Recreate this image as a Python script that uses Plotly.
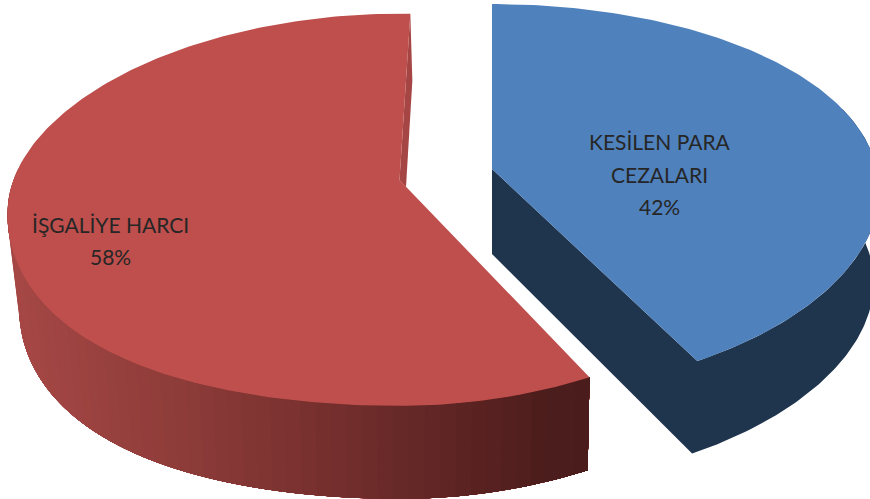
import numpy as np
import plotly.graph_objects as go

categories = ["KESİLEN PARA CEZALARI", "İŞGALİYE HARCI"]
values = [42, 58]
label_lines = [["KESİLEN PARA", "CEZALARI", "42%"], ["İŞGALİYE HARCI", "58%"]]

W, H = 870, 499
BLUE_TOP, BLUE_DARK = "#4F81BD", "#1F344D"
RED_TOP, RED_INNER = "#BE4F4C", "#A64644"
SIDE_STOPS = [(0.0, (166, 72, 70)), (0.25, (145, 62, 59)), (0.5, (122, 50, 48)), (0.93, (76, 29, 28)), (1.0, (74, 29, 28))]

blue_geo = dict(ax=492, ay=169, rx=385, ry=190, kx=0.11, ky=0.152, rot=0.0, depth=92.5, b0=0.965, b1=0.0205, sy=0, sy2=0)
red_geo = dict(ax=399.5, ay=180, rx=391, ry=191.5, kx=0.07, ky=0.152, rot=1.7, depth=93, b0=0.984, b1=0.0138, sy=20, sy2=27)
label_pos = [[(659.5, 141), (659, 174), (659, 206)], [(110.5, 224), (110.5, 256)]]


def top_xy(theta, g):
    t = np.radians(np.asarray(theta, dtype=float) + g["rot"])
    u, v = np.sin(t), np.cos(t)
    lift = np.minimum(u, 0) ** 2 * (g["sy"] + g["sy2"] * np.maximum(-v, 0))
    return g["ax"] + g["rx"] * u / (1 + g["kx"] * v), g["ay"] - g["ry"] * v / (1 + g["ky"] * v) + lift


def bottom_xy(theta, g):
    x, y = top_xy(theta, g)
    u = np.sin(np.radians(np.asarray(theta, dtype=float) + g["rot"]))
    return g["ax"] + (x - g["ax"]) * (g["b0"] + g["b1"] * u), y + g["depth"]


def poly(x, y, color):
    return go.Scatter(x=list(x), y=list(y), mode="lines", fill="toself", fillcolor=color,
                      line=dict(color=color, width=0), hoverinfo="skip", showlegend=False)


def side_color(f):
    xs = [s[0] for s in SIDE_STOPS]
    return "rgb(%d,%d,%d)" % tuple(np.interp(f, xs, [s[1][i] for s in SIDE_STOPS]) for i in range(3))


fig = go.Figure()

a_blue = values[0] / sum(values) * 360
blue_arc = np.linspace(0, a_blue, 181)
red_arc = np.linspace(a_blue, 360, 241)

# red slice: outer wall (bands overlap so no seams), inner sliver, top face
band_edges = np.linspace(280, a_blue, 61)
for i in range(60):
    t = np.linspace(band_edges[i], a_blue, 80)
    x0, y0 = top_xy(t, red_geo)
    x1, y1 = bottom_xy(t, red_geo)
    xm, _ = top_xy((band_edges[i] + band_edges[i + 1]) / 2, red_geo)
    fig.add_trace(poly(np.r_[x0, x1[::-1]], np.r_[y0, y1[::-1]], side_color((xm - 12) / (591 - 12))))

ex, ey = top_xy(360, red_geo)
fig.add_trace(poly([red_geo["ax"], ex, ex + 2, red_geo["ax"] + 6.5],
                   [red_geo["ay"], ey, ey + 67, red_geo["ay"] + 7], RED_INNER))
x, y = top_xy(red_arc, red_geo)
fig.add_trace(poly(np.r_[red_geo["ax"], x], np.r_[red_geo["ay"], y], RED_TOP))

# blue slice: walls as one outline, then top face
vis = blue_arc[blue_arc >= 70]
x0, y0 = top_xy(vis, blue_geo)
x1, y1 = bottom_xy(vis, blue_geo)
fig.add_trace(poly(np.r_[blue_geo["ax"], blue_geo["ax"], x1[::-1], x0],
                   np.r_[blue_geo["ay"], blue_geo["ay"] + 85, y1[::-1], y0], BLUE_DARK))
x, y = top_xy(blue_arc, blue_geo)
fig.add_trace(poly(np.r_[blue_geo["ax"], x], np.r_[blue_geo["ay"], y], BLUE_TOP))

for lines, positions in zip(label_lines, label_pos):
    for text, (lx, ly) in zip(lines, positions):
        fig.add_annotation(x=lx, y=ly, xref="x", yref="y", text=text, showarrow=False,
                           font=dict(family="Lato", size=21, color="#262626"))

fig.update_layout(
    width=W, height=H, margin=dict(l=0, r=0, t=0, b=0), autosize=False,
    paper_bgcolor="white", plot_bgcolor="white", showlegend=False,
    xaxis=dict(range=[0, W], visible=False, fixedrange=True),
    yaxis=dict(range=[H, 0], visible=False, fixedrange=True),
)
fig.write_html("out.html", config=dict(displayModeBar=False),
               post_script="document.body.style.margin='0';document.body.style.overflow='hidden';")
